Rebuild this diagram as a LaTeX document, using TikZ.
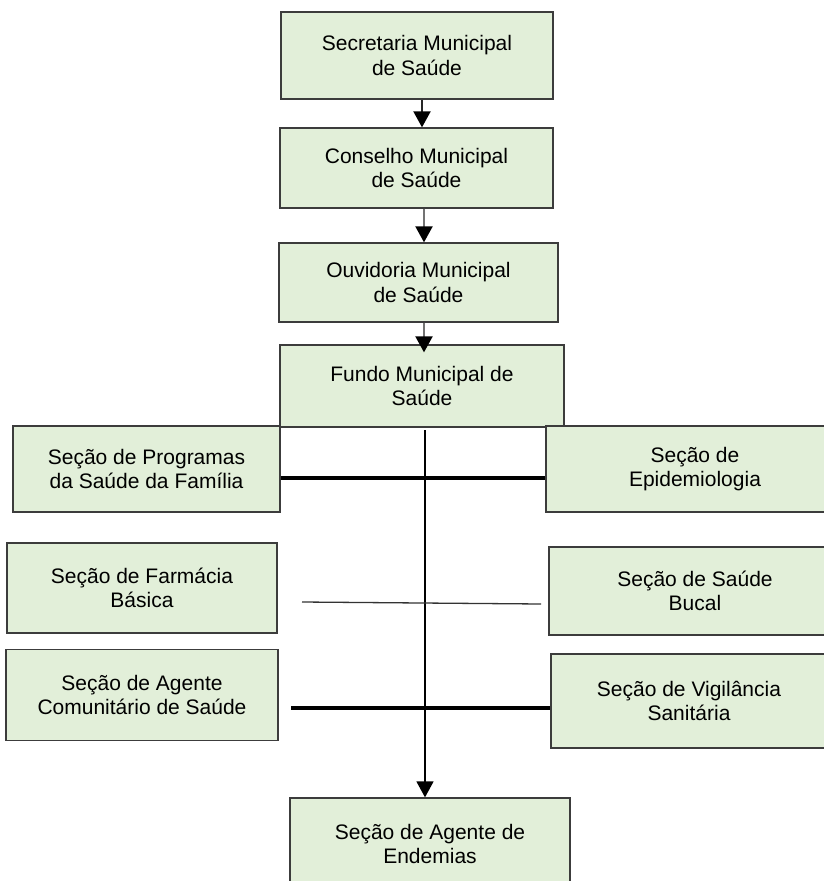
\documentclass[tikz,border=0pt]{standalone}
\usepackage{fontspec}
\setmainfont{Liberation Sans}
\usetikzlibrary{arrows.meta}
\definecolor{boxfill}{RGB}{226,239,217}
\definecolor{boxline}{RGB}{60,60,60}
\begin{document}
\begin{tikzpicture}[x=1pt,y=-1pt,
  orgbox/.style={draw=boxline,fill=boxfill,line width=1.3pt,align=center,inner sep=0pt,
    font=\fontsize{21}{24.5}\selectfont},
  arr/.style={draw=black!55,line width=2pt,-{Triangle[width=17pt,length=16pt,color=black]}},
  thick link/.style={draw=black,line width=4.5pt},
  thin link/.style={draw=black!80,line width=1.3pt}]
\useasboundingbox (0,0) rectangle (824,881);
\clip (0,0) rectangle (824,881);
\fill[white] (0,0) rectangle (824,881);
\node[orgbox,minimum width=272pt,minimum height=87pt] (B1) at (417,55.5) {Secretaria Municipal\\de Saúde};
\node[orgbox,minimum width=273pt,minimum height=80pt] (B2) at (416.5,168) {Conselho Municipal\\de Saúde};
\node[orgbox,minimum width=279pt,minimum height=79pt] (B3) at (418.5,282.5) {Ouvidoria Municipal\\de Saúde};
\node[orgbox,minimum width=284pt,minimum height=82pt] (B4) at (422,386) {Fundo Municipal de\\Saúde};
\node[orgbox,minimum width=267pt,minimum height=86pt] (L1) at (146.5,469) {Seção de Programas\\da Saúde da Família};
\node[orgbox,minimum width=298pt,minimum height=86pt] (R1) at (695,469) {Seção de\\Epidemiologia};
\node[orgbox,minimum width=270pt,minimum height=90pt] (L2) at (142,588) {Seção de Farmácia\\Básica};
\node[orgbox,minimum width=292pt,minimum height=88pt] (R2) at (695,591) {Seção de Saúde\\Bucal};
\node[orgbox,minimum width=272pt,minimum height=91pt] (L3) at (142,695) {Seção de Agente\\Comunitário de Saúde};
\node[orgbox,minimum width=276pt,minimum height=94pt] (R3) at (689,701) {Seção de Vigilância\\Sanitária};
\node[orgbox,minimum width=280pt,minimum height=92pt] (E) at (430,844) {Seção de Agente de\\Endemias};
% arrows between top boxes
\draw[arr,draw=black!85] ([xshift=5pt]B1.south) -- ([xshift=5.5pt]B2.north);
\draw[arr] ([xshift=7.5pt]B2.south) -- ([xshift=5.5pt]B3.north);
\draw[arr] ([xshift=5.5pt]B3.south) -- ([xshift=2pt,yshift=-8pt]B4.north);
% main vertical
\coordinate (vtop) at (425,430);
\draw[arr,draw=black,line width=1.5pt] (vtop) -- ([xshift=-5pt]E.north);
% horizontal links
\draw[thick link] ([yshift=-9pt]L1.east) -- ([yshift=-9pt]R1.west);
\coordinate (t1) at (302,602);
\coordinate (t2) at (541,604);
\draw[thin link] (t1) -- (t2);
\coordinate (k1) at (291,708);
\draw[thick link] (k1) -- ([yshift=-7pt]R3.west);
\end{tikzpicture}
\end{document}
